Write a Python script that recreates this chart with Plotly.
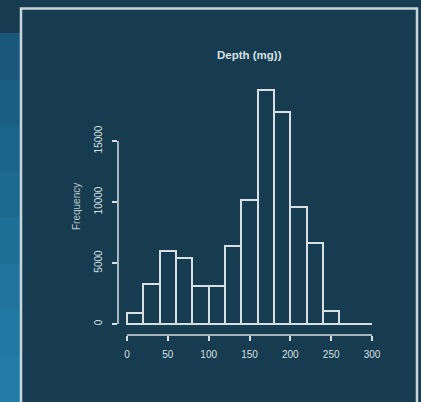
import plotly.graph_objects as go

# ---- data ----
bin_starts = [0, 20, 40, 60, 80, 100, 120, 140, 160, 180, 200, 220, 240, 260, 280]
counts = [900, 3300, 6000, 5400, 3100, 3100, 6400, 10200, 19200, 17400, 9600, 6600, 1100, 0, 0]
bin_width = 20
x_ticks = [0, 50, 100, 150, 200, 250, 300]
y_ticks = [0, 5000, 10000, 15000]
y_tick_labels = ["0", "5000", "10000", "15000"]
title_text = "Depth (mg))"
y_title = "Frequency"

# ---- layout geometry (pixels) ----
W, H = 421, 402
L, R, T, B = 118, 380, 70, 335
px_x0, px_x300 = 127, 372
px_y0, px_y15k = 324, 141
sx = (px_x300 - px_x0) / 300.0
sy = (px_y0 - px_y15k) / 15000.0
x_range = [-(px_x0 - L) / sx, 300 + (R - px_x300) / sx]
y_range = [-(B - px_y0) / sy, 15000 + (px_y15k - T) / sy]

def pxx(p):
    return (p - L) / (R - L)

def pxy(p):
    return (B - p) / (B - T)

panel = "#173b4f"
fg = "#d6e0e4"
font_family = "Liberation Sans, Arial"

centers = [s + bin_width / 2 for s in bin_starts]

fig = go.Figure()
fig.add_trace(go.Bar(
    x=centers, y=counts, width=bin_width,
    marker=dict(color="rgba(0,0,0,0)", line=dict(color=fg, width=2)),
    hoverinfo="skip",
))

shapes = []
# left blue strip gradient (outside panel)
strip_cols = ["#19587b", "#1a5e83", "#1b648a", "#1d6a91", "#1e6f97", "#20749d", "#2179a3", "#227ca7"]
y_top, y_bot = 33, 402
n = len(strip_cols)
for i, c in enumerate(strip_cols):
    a = y_top + (y_bot - y_top) * i / n
    b = y_top + (y_bot - y_top) * (i + 1) / n
    shapes.append(dict(type="rect", xref="paper", yref="paper",
                       x0=pxx(0), x1=pxx(20.5), y0=pxy(a), y1=pxy(b + 0.5),
                       fillcolor=c, line=dict(width=0), layer="below"))
# panel border
shapes.append(dict(type="rect", xref="paper", yref="paper",
                   x0=pxx(21), x1=pxx(417), y0=pxy(8.5), y1=pxy(420),
                   fillcolor="rgba(0,0,0,0)", line=dict(color="#c9d5da", width=2.5), layer="below"))
# axis lines (R style, spanning tick range)
shapes.append(dict(type="line", xref="x", yref="paper", x0=x_ticks[0], x1=x_ticks[-1], y0=0, y1=0,
                   line=dict(color=fg, width=1.5)))
shapes.append(dict(type="line", xref="paper", yref="y", x0=0, x1=0, y0=y_ticks[0], y1=y_ticks[-1],
                   line=dict(color=fg, width=1.5)))
# histogram baseline across all bins
shapes.append(dict(type="line", xref="x", yref="y", x0=bin_starts[0], x1=bin_starts[-1] + bin_width,
                   y0=0, y1=0, line=dict(color=fg, width=2)))

annotations = [
    dict(text="<b>" + title_text + "</b>", xref="paper", yref="paper", x=pxx(249), y=pxy(55),
         showarrow=False, font=dict(family=font_family, size=11.5, color=fg),
         xanchor="center", yanchor="middle"),
    dict(text=y_title, xref="paper", yref="paper", x=pxx(76), y=pxy(207),
         showarrow=False, textangle=-90, font=dict(family=font_family, size=10, color="#b9c7ce"),
         xanchor="center", yanchor="middle"),
]

fig.update_layout(
    width=W, height=H,
    margin=dict(l=L, r=W - R, t=T, b=H - B, pad=0),
    paper_bgcolor=panel, plot_bgcolor="rgba(0,0,0,0)",
    showlegend=False, bargap=0,
    shapes=shapes, annotations=annotations,
    xaxis=dict(range=x_range, tickmode="array", tickvals=x_ticks,
               ticks="outside", ticklen=5, tickwidth=1.5, tickcolor=fg,
               ticklabelstandoff=5,
               showgrid=False, zeroline=False, showline=False,
               tickfont=dict(family=font_family, size=10, color=fg)),
    yaxis=dict(range=y_range, tickmode="array", tickvals=y_ticks, ticktext=y_tick_labels,
               ticks="outside", ticklen=5, tickwidth=1.5, tickcolor=fg, tickangle=-90,
               ticklabelstandoff=6,
               showgrid=False, zeroline=False, showline=False,
               tickfont=dict(family=font_family, size=10, color=fg)),
)

fig.write_html("out.html", config={"displayModeBar": False},
               post_script="document.body.style.margin='0';document.body.style.overflow='hidden';")
